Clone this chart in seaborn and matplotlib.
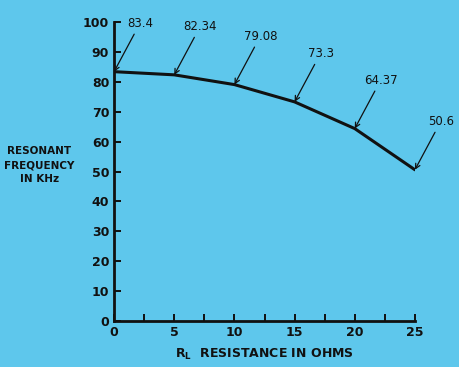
import matplotlib
matplotlib.use("Agg")
import matplotlib.pyplot as plt
import seaborn as sns
import pandas as pd

# values
resistance = [0, 5, 10, 15, 20, 25]
frequency = [83.4, 82.34, 79.08, 73.3, 64.37, 50.6]
labels = ["83.4", "82.34", "79.08", "73.3", "64.37", "50.6"]

bg = "#5ec7ec"
ink = "#111111"

sns.set_style("ticks")
plt.rcParams["font.family"] = ["DejaVu Sans"]

data = pd.DataFrame({"R": resistance, "F": frequency})

fig = plt.figure(figsize=(4.6, 3.67), dpi=100, facecolor=bg)
ax = fig.add_axes([0.248, 0.125, 0.654, 0.815])
ax.set_facecolor(bg)

sns.lineplot(data=data, x="R", y="F", ax=ax, color=ink, linewidth=2.2)

# annotate each point with its value and an arrow
for x, y, lab in zip(resistance, frequency, labels):
    ax.annotate(lab, xy=(x, y), xytext=(26, 42), textcoords="offset pixels",
                ha="center", va="bottom", fontsize=8.5, color=ink,
                arrowprops=dict(arrowstyle="->", color=ink, lw=0.9,
                                shrinkA=1, shrinkB=0))

ax.set_xlim(0, 25)
ax.set_ylim(0, 100)
ax.set_xticks([0, 5, 10, 15, 20, 25])
ax.set_xticks([2.5, 7.5, 12.5, 17.5, 22.5], minor=True)
ax.set_yticks(range(0, 101, 10))
ax.tick_params(axis="both", direction="in", length=5, width=1.4, colors=ink,
               labelsize=9)
ax.tick_params(axis="x", which="minor", direction="in", length=5, width=1.4, colors=ink)
for lab in ax.get_xticklabels() + ax.get_yticklabels():
    lab.set_fontweight("bold")

sns.despine(ax=ax)
for s in ["left", "bottom"]:
    ax.spines[s].set_linewidth(2)
    ax.spines[s].set_color(ink)

ax.set_xlabel(r"R$_\mathregular{L}$  RESISTANCE IN OHMS", fontsize=9,
              fontweight="bold", color=ink, labelpad=6)
ax.set_ylabel("")
fig.text(0.085, 0.55, "RESONANT\nFREQUENCY\nIN KHz", ha="center", va="center",
         fontsize=7.5, fontweight="bold", color=ink, linespacing=1.5)

fig.savefig("out.png", dpi=100, facecolor=bg)
